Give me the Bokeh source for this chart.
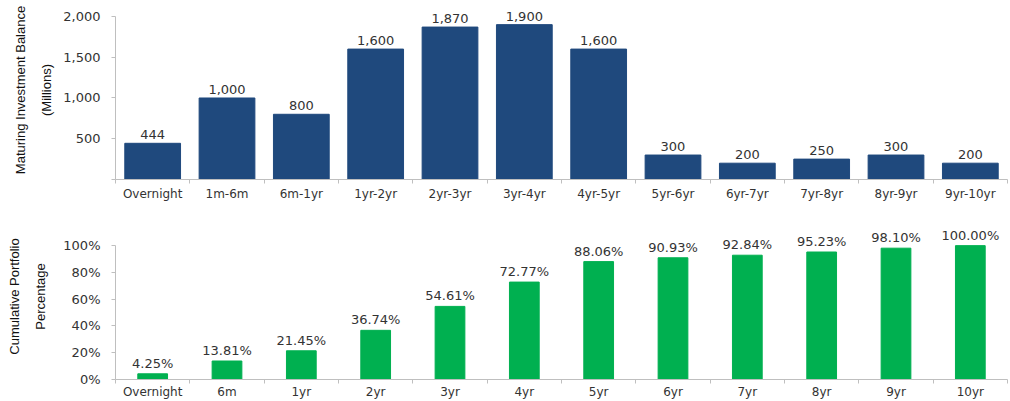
from bokeh.plotting import figure
from bokeh.models import ColumnDataSource, LabelSet, FixedTicker, NumeralTickFormatter, Range1d
from bokeh.core.properties import value
from bokeh.layouts import column
from bokeh.embed import file_html
from bokeh.resources import INLINE

# ---------------- data ----------------
maturity_buckets = ["Overnight", "1m-6m", "6m-1yr", "1yr-2yr", "2yr-3yr", "3yr-4yr",
                    "4yr-5yr", "5yr-6yr", "6yr-7yr", "7yr-8yr", "8yr-9yr", "9yr-10yr"]
maturing_balance = [444, 1000, 800, 1600, 1870, 1900, 1600, 300, 200, 250, 300, 200]

cumulative_buckets = ["Overnight", "6m", "1yr", "2yr", "3yr", "4yr",
                      "5yr", "6yr", "7yr", "8yr", "9yr", "10yr"]
cumulative_pct = [4.25, 13.81, 21.45, 36.74, 54.61, 72.77,
                  88.06, 90.93, 92.84, 95.23, 98.10, 100.00]

balance_ticks = [0, 500, 1000, 1500, 2000]
pct_ticks = [0, 20, 40, 60, 80, 100]

# ---------------- style ----------------
NAVY = "#1F497D"
GREEN = "#00B050"
AXIS_GRAY = "#BFBFBF"
TEXT = "#333333"
TICK_FONT = "DejaVu Sans"
TITLE_FONT = "Liberation Sans"


def style(p, labels, label_standoff, title_standoff):
    n = len(labels)
    centers = [i + 0.5 for i in range(n)]
    p.xgrid.visible = False
    p.ygrid.visible = False
    p.outline_line_color = None
    p.background_fill_color = "white"
    p.border_fill_color = "white"

    xa = p.xaxis[0]
    xa.ticker = FixedTicker(ticks=centers, minor_ticks=list(range(n + 1)))
    xa.major_label_overrides = {c: lab for c, lab in zip(centers, labels)}
    xa.major_tick_out = 0
    xa.major_tick_in = 0
    xa.minor_tick_out = 4
    xa.minor_tick_in = 0
    xa.minor_tick_line_color = AXIS_GRAY
    xa.axis_line_color = AXIS_GRAY
    xa.major_label_standoff = label_standoff
    xa.major_label_text_font = TICK_FONT
    xa.major_label_text_font_size = "12px"
    xa.major_label_text_color = TEXT

    ya = p.yaxis[0]
    ya.axis_line_color = AXIS_GRAY
    ya.major_tick_line_color = AXIS_GRAY
    ya.major_tick_out = 4
    ya.major_tick_in = 0
    ya.minor_tick_line_color = None
    ya.major_label_standoff = 11
    ya.major_label_text_font = TICK_FONT
    ya.major_label_text_font_size = "13px"
    ya.major_label_text_color = TEXT
    ya.axis_label_text_font = TITLE_FONT
    ya.axis_label_text_font_size = "13px"
    ya.axis_label_text_font_style = "normal"
    ya.axis_label_text_line_height = 1.75
    ya.axis_label_text_color = "#111111"
    ya.axis_label_standoff = title_standoff


# ---------------- top chart ----------------
n = len(maturity_buckets)
src1 = ColumnDataSource(dict(
    x=[i + 0.5 for i in range(n)],
    top=maturing_balance,
    label=[f"{v:,}" for v in maturing_balance],
))

p1 = figure(width=1010, height=203, x_range=Range1d(0, n), y_range=Range1d(0, 2196),
            output_backend="svg", toolbar_location=None,
            min_border_left=115, min_border_right=3, min_border_top=0, min_border_bottom=24)
p1.vbar(x="x", top="top", width=0.75, source=src1, fill_color=NAVY, line_color=NAVY)
p1.add_layout(LabelSet(x="x", y="top", text="label", source=src1, text_align="center",
                       text_baseline="alphabetic", y_offset=4, text_font=value(TICK_FONT),
                       text_font_size=value("13px"), text_color=TEXT))
style(p1, maturity_buckets, 3, 6)
p1.yaxis.ticker = FixedTicker(ticks=balance_ticks)
p1.yaxis.formatter = NumeralTickFormatter(format="0,0")
p1.yaxis.major_label_overrides = {0: ""}
p1.yaxis.bounds = (0, 2000)
p1.yaxis.axis_label = "Maturing Investment Balance\n(Millions)"

# ---------------- bottom chart ----------------
m = len(cumulative_buckets)
src2 = ColumnDataSource(dict(
    x=[i + 0.5 for i in range(m)],
    top=cumulative_pct,
    label=[f"{v:.2f}%" for v in cumulative_pct],
))

p2 = figure(width=1010, height=198, x_range=Range1d(0, m), y_range=Range1d(0, 124),
            output_backend="svg", toolbar_location=None,
            min_border_left=107, min_border_right=0, min_border_top=10, min_border_bottom=22)
p2.vbar(x="x", top="top", width=0.4, source=src2, fill_color=GREEN, line_color=GREEN)
p2.add_layout(LabelSet(x="x", y="top", text="label", source=src2, text_align="center",
                       text_baseline="alphabetic", y_offset=6, text_font=value(TICK_FONT),
                       text_font_size=value("13px"), text_color=TEXT))
style(p2, cumulative_buckets, 1, 12)
p2.yaxis.ticker = FixedTicker(ticks=pct_ticks)
p2.yaxis.major_label_overrides = {t: f"{t}%" for t in pct_ticks}
p2.yaxis.bounds = (0, 100)
p2.yaxis.axis_label = "Cumulative Portfolio\nPercentage"

layout = column(p1, p2, spacing=0)
open("out.html", "w").write(file_html(layout, INLINE))
